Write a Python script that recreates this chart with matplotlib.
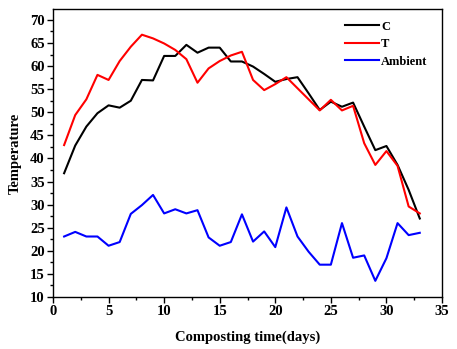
import matplotlib
matplotlib.use("Agg")
import matplotlib.pyplot as plt
from matplotlib.ticker import MultipleLocator

days = list(range(1, 34))
C = [36.8, 42.8, 46.9, 49.8, 51.5, 51.0, 52.5, 57.0, 56.9, 62.2, 62.2, 64.6, 62.9, 64.0, 64.0,
     61.0, 61.0, 59.9, 58.3, 56.6, 57.2, 57.6, 54.1, 50.5, 52.3, 51.2, 52.1, 46.9, 41.8, 42.7,
     38.6, 33.2, 27.0]
T = [42.9, 49.4, 52.8, 58.1, 57.0, 61.1, 64.2, 66.8, 66.0, 64.9, 63.5, 61.5, 56.4, 59.5, 61.1,
     62.3, 63.1, 57.0, 54.8, 56.1, 57.6, 55.2, 52.8, 50.4, 52.7, 50.4, 51.4, 43.3, 38.6, 41.6,
     38.4, 29.6, 28.1]
Ambient = [23.1, 24.1, 23.1, 23.1, 21.1, 21.9, 28.0, 29.9, 32.1, 28.1, 29.0, 28.1, 28.8, 22.9,
           21.1, 21.9, 27.9, 22.0, 24.2, 20.8, 29.4, 23.1, 19.8, 17.0, 17.0, 26.0, 18.5, 19.0,
           13.5, 18.4, 26.0, 23.4, 23.9]

plt.rcParams['font.family'] = ['Liberation Serif', 'DejaVu Serif']
plt.rcParams['font.weight'] = 'bold'

fig = plt.figure(figsize=(4.57, 3.49), dpi=100)
ax = fig.add_axes([53/457, 1-297/349, (442-53)/457, (297-9.3)/349])

ax.plot(days, C, color='black', lw=1.5, label='C')
ax.plot(days, T, color='red', lw=1.5, label='T')
ax.plot(days, Ambient, color='blue', lw=1.5, label='Ambient')

ax.set_xlim(0, 35)
ax.set_ylim(10, 72.3)
ax.xaxis.set_major_locator(MultipleLocator(5))
ax.xaxis.set_minor_locator(MultipleLocator(2.5))
ax.set_yticks([10, 15, 20, 25, 30, 35, 40, 45, 50, 55, 60, 65, 70])
ax.yaxis.set_minor_locator(MultipleLocator(2.5))
ax.tick_params(which='major', direction='out', length=4, width=1, labelsize=10.5, pad=2)
ax.tick_params(which='minor', direction='out', length=2.5, width=1)
for lab in ax.get_xticklabels() + ax.get_yticklabels():
    lab.set_fontweight('bold')
for s in ax.spines.values():
    s.set_linewidth(1)

ax.set_xlabel('Composting time(days)', fontsize=10.5, fontweight='bold', labelpad=9)
ax.set_ylabel('Temperature', fontsize=10.5, fontweight='bold', labelpad=6)

leg = ax.legend(loc='upper left', bbox_to_anchor=(0.75, 0.961), frameon=False,
                prop={'family': 'Liberation Serif', 'weight': 'bold', 'size': 9},
                handlelength=2.7, handletextpad=0.2, labelspacing=0.44, borderpad=0,
                borderaxespad=0)

fig.savefig('out.png', dpi=100)
